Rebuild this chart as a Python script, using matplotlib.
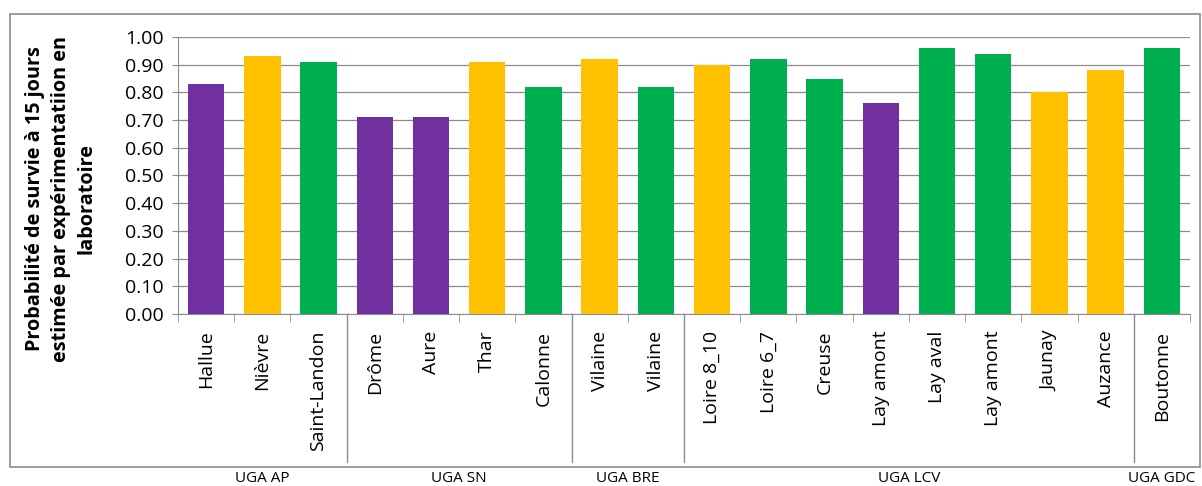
import numpy as np
import matplotlib
matplotlib.use("Agg")
import matplotlib.pyplot as plt
import matplotlib.transforms as mtransforms
from matplotlib.patches import Rectangle

# donnees
sites = ["Hallue", "Nièvre", "Saint-Landon", "Drôme", "Aure", "Thar", "Calonne",
         "Vilaine", "Vilaine", "Loire 8_10", "Loire 6_7", "Creuse", "Lay amont",
         "Lay aval", "Lay amont", "Jaunay", "Auzance", "Boutonne"]
survie = [0.83, 0.93, 0.91, 0.71, 0.71, 0.91, 0.82,
          0.92, 0.82, 0.90, 0.92, 0.85, 0.76,
          0.96, 0.94, 0.80, 0.88, 0.96]
classe = ["v", "j", "g", "v", "v", "j", "g",
          "j", "g", "j", "g", "g", "v",
          "g", "g", "j", "j", "g"]
groupes = ["UGA AP", "UGA SN", "UGA BRE", "UGA LCV", "UGA GDC"]
taille_groupes = [3, 4, 2, 8, 1]

COULEURS = {"v": "#7030A0", "j": "#FFC000", "g": "#00B050"}
GRIS = "#8c8c8c"

plt.rcParams['font.family'] = ['Open Sans', 'DejaVu Sans']

fig = plt.figure(figsize=(12.02, 4.86), dpi=100)
W, H = 1202, 486
ax = fig.add_axes([178 / W, 1 - 314 / H, (1190 - 178) / W, (314 - 37) / H])

x = np.arange(len(sites))
ax.bar(x, survie, width=0.65, color=[COULEURS[c] for c in classe], zorder=3)

ax.set_xlim(-0.5, len(sites) - 0.5)
ax.set_ylim(0, 1.0)
ax.set_yticks(np.arange(0, 1.01, 0.1))
ax.set_yticklabels([f"{v:.2f}" for v in np.arange(0, 1.01, 0.1)], fontsize=14)
ax.yaxis.grid(True, color=GRIS, linewidth=0.9, zorder=0)
ax.set_axisbelow(True)

ax.set_xticks(x)
ax.set_xticklabels(sites, rotation=90, fontsize=14)
ax.tick_params(axis='x', length=0, pad=12)
ax.set_xticks(np.arange(-0.5, len(sites)), minor=True)
ax.tick_params(axis='x', which='minor', length=6, color=GRIS)
ax.tick_params(axis='y', length=4, color=GRIS, pad=6)

for s in ["top", "right"]:
    ax.spines[s].set_visible(False)
ax.spines["left"].set_color(GRIS)
ax.spines["bottom"].set_color(GRIS)

# titre de l'axe y (3 lignes)
fig.text(61 / W, 1 - 199 / H,
         "Probabilité de survie à 15 jours\nestimée par expérimentatiion en\nlaboratoire",
         rotation=90, ha='center', va='center', fontsize=14.3, fontweight='bold',
         linespacing=1.4, multialignment='center')

# separateurs de groupes + etiquettes
trans = mtransforms.blended_transform_factory(ax.transData, fig.transFigure)
bornes = np.cumsum(taille_groupes)
debut = 0
for nom, fin in zip(groupes, bornes):
    if fin < len(sites):
        ax.plot([fin - 0.5, fin - 0.5], [1 - 314 / H, 1 - 462 / H], transform=trans,
                color=GRIS, linewidth=1, clip_on=False)
    centre = (debut + fin - 1) / 2
    fig.text(centre, 1 - 478 / H, nom, transform=trans, ha='center', va='center', fontsize=11)
    debut = fin

# cadre exterieur
fig.patches.append(Rectangle((10 / W, 1 - 467 / H), (1200 - 10) / W, (467 - 14) / H,
                             transform=fig.transFigure, fill=False, edgecolor=GRIS, linewidth=1.2))

fig.savefig("out.png", dpi=100)
